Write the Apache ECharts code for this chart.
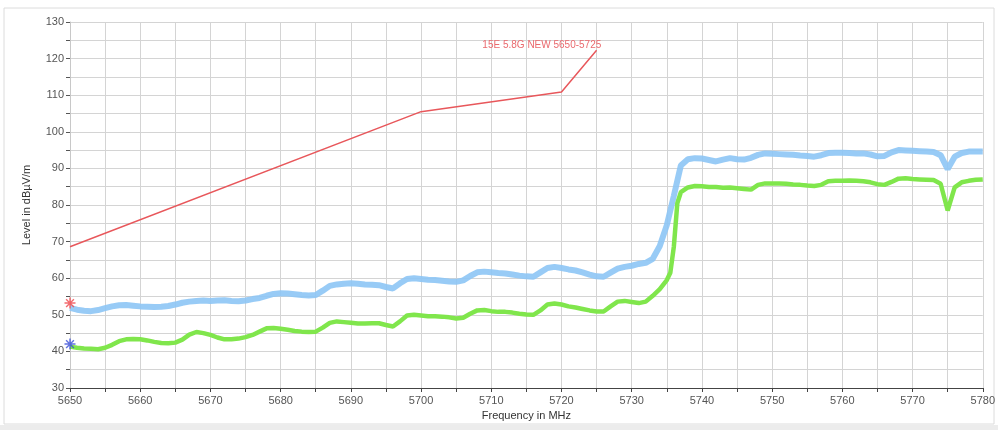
<!DOCTYPE html>
<html>
<head>
<meta charset="utf-8">
<script src="https://cdn.jsdelivr.net/npm/echarts@6/dist/echarts.min.js"></script>
<style>
    html, body { margin: 0; padding: 0; background: #fff; }
    #chart { width: 998px; height: 430px; }
</style>
</head>
<body>
<div id="chart"></div>
<script>
// frequency grid, 1 MHz steps (5650 .. 5780)
var freqStart = 5650
var freqEnd = 5780

// peak trace (blue), one value per MHz
var bluePeak = [
    51.9, 51.4, 51.1, 51.0, 51.3, 51.8, 52.3, 52.6, 52.7, 52.5,
    52.3, 52.2, 52.1, 52.2, 52.4, 52.8, 53.3, 53.6, 53.8, 53.9,
    53.8, 53.9, 54.0, 53.8, 53.7, 53.9, 54.3, 54.6, 55.2, 55.7,
    55.9, 55.8, 55.6, 55.4, 55.3, 55.4, 56.6, 57.9, 58.3, 58.5,
    58.6, 58.5, 58.3, 58.2, 58.1, 57.6, 57.2, 58.6, 59.8, 60.0,
    59.8, 59.6, 59.5, 59.3, 59.1, 59.0, 59.4, 60.6, 61.6, 61.8,
    61.6, 61.4, 61.3, 61.0, 60.7, 60.5, 60.4, 61.6, 62.8, 63.1,
    62.8, 62.4, 62.1, 61.6, 61.0, 60.5, 60.4, 61.5, 62.6, 63.1,
    63.4, 63.9, 64.2, 65.3, 68.8, 74.5, 82.5, 90.8, 92.5, 92.8,
    92.7, 92.3, 91.9, 92.4, 92.8, 92.5, 92.4, 92.9, 93.7, 94.1,
    94.0, 93.9, 93.8, 93.7, 93.5, 93.4, 93.2, 93.6, 94.2, 94.3,
    94.3, 94.2, 94.1, 94.1, 93.8, 93.3, 93.4, 94.4, 95.0, 94.9,
    94.8, 94.7, 94.6, 94.5, 93.6, 89.8, 93.2, 94.2, 94.6, 94.6,
    94.6
]

// average trace (green), one value per MHz
var greenAvg = [
    41.3, 41.0, 40.8, 40.7, 40.6, 41.0, 41.8, 42.8, 43.3, 43.4,
    43.3, 43.0, 42.6, 42.3, 42.2, 42.4, 43.2, 44.6, 45.3, 45.0,
    44.5, 43.8, 43.3, 43.3, 43.5, 43.9, 44.5, 45.4, 46.3, 46.4,
    46.2, 45.9, 45.6, 45.4, 45.3, 45.4, 46.5, 47.8, 48.2, 48.0,
    47.8, 47.6, 47.6, 47.7, 47.7, 47.2, 46.8, 48.2, 49.8, 50.0,
    49.8, 49.6, 49.6, 49.5, 49.3, 49.0, 49.2, 50.3, 51.2, 51.3,
    51.0, 50.8, 50.8, 50.6, 50.3, 50.1, 50.0, 51.2, 52.8, 53.1,
    52.8, 52.3, 52.0, 51.6, 51.2, 50.9, 50.9, 52.3, 53.6, 53.8,
    53.5, 53.2, 53.6, 55.2, 57.0, 59.5, 68.6, 83.5, 84.8, 85.2,
    85.1, 84.9, 84.9, 84.7, 84.8, 84.6, 84.4, 84.2, 85.5, 85.9,
    85.9, 85.9, 85.8, 85.6, 85.5, 85.3, 85.2, 85.5, 86.5, 86.6,
    86.6, 86.7, 86.6, 86.5, 86.2, 85.7, 85.5, 86.3, 87.2, 87.3,
    87.1, 87.0, 86.9, 86.8, 85.8, 78.5, 84.8, 86.2, 86.6, 86.9,
    87.0
]

// extra readings on the steep edge of the average trace
var greenEdgeFreq = [5735.5, 5736.5]
var greenEdgeLevel = [61.5, 80.5]

// limit line
var limitFreq = [5650, 5700, 5720, 5725]
var limitLevel = [68.6, 105.5, 110.9, 122.3]
var limitName = '15E 5.8G NEW 5650-5725'

// markers at start of sweep
var markerPeak = [5650, 53.2]
var markerAvg = [5650, 42.0]

var asterisk = 'path://M-0.8,-6L0.8,-6L0.8,6L-0.8,6Z M-6,-0.8L6,-0.8L6,0.8L-6,0.8Z M-4.8,-3.7L-3.7,-4.8L4.8,3.7L3.7,4.8Z M3.7,-4.8L4.8,-3.7L-3.7,4.8L-4.8,3.7Z'

var toPairs = (vals) => vals.map((v, i) => [freqStart + i, v])

var greenData = toPairs(greenAvg)
greenEdgeFreq.forEach((f, i) => greenData.push([f, greenEdgeLevel[i]]))
greenData.sort((a, b) => a[0] - b[0])

var chart = echarts.init(document.getElementById('chart'))

var fontFam = '"Liberation Sans", Arial, sans-serif'

chart.setOption({
    animation: false,
    backgroundColor: '#fff',
    textStyle: { fontFamily: fontFam },
    graphic: [
        {
            type: 'rect',
            shape: { x: 4, y: 8, width: 990, height: 416 },
            style: { fill: 'none', stroke: '#dcdcdc', lineWidth: 1 },
            silent: true
        },
        {
            type: 'rect',
            shape: { x: 0, y: 425, width: 998, height: 5 },
            style: { fill: '#ececec' },
            silent: true
        }
    ],
    grid: { left: 70, right: 13, top: 22, bottom: 42 },
    xAxis: {
        type: 'value',
        min: freqStart,
        max: freqEnd,
        interval: 5,
        name: 'Frequency in MHz',
        nameLocation: 'middle',
        nameGap: 21,
        nameTextStyle: { color: '#333', fontSize: 11 },
        axisLine: { lineStyle: { color: '#444', width: 1 } },
        axisTick: { length: 4, lineStyle: { color: '#444' } },
        axisLabel: {
            color: '#555',
            fontSize: 11,
            margin: 7,
            formatter: (v) => (v % 10 === 0 ? v : '')
        },
        splitLine: { show: true, lineStyle: { color: '#d4d4d4', width: 1 } }
    },
    yAxis: {
        type: 'value',
        min: 30,
        max: 130,
        interval: 5,
        name: 'Level in dBµV/m',
        nameLocation: 'middle',
        nameRotate: 90,
        nameGap: 38,
        nameTextStyle: { color: '#333', fontSize: 11 },
        axisLine: { show: true, lineStyle: { color: '#c8c8c8' } },
        axisTick: { show: true, length: 4, lineStyle: { color: '#555' } },
        axisLabel: {
            color: '#555',
            fontSize: 11,
            margin: 6,
            formatter: (v) => (v % 10 === 0 ? v : '')
        },
        splitLine: { show: true, lineStyle: { color: '#d4d4d4', width: 1 } }
    },
    series: [
        {
            name: 'Peak',
            type: 'line',
            data: toPairs(bluePeak),
            symbol: 'none',
            lineStyle: { color: '#8dc5f5', width: 6, opacity: 0.9 },
            z: 3
        },
        {
            name: 'Average',
            type: 'line',
            data: greenData,
            symbol: 'none',
            lineStyle: { color: '#80e64c', width: 4.5 },
            z: 4
        },
        {
            name: limitName,
            type: 'line',
            data: limitFreq.map((f, i) => [f, limitLevel[i]]),
            symbol: 'none',
            lineStyle: { color: '#e8575b', width: 1.5 },
            z: 5,
            markPoint: {
                symbol: 'circle',
                symbolSize: 0,
                data: [{
                    coord: [5717.2, 123.6],
                    label: {
                        show: true,
                        formatter: limitName,
                        color: '#ea6a6e',
                        fontSize: 10,
                        fontFamily: fontFam
                    }
                }]
            }
        },
        {
            name: 'Marker peak',
            type: 'scatter',
            data: [markerPeak],
            symbol: asterisk,
            symbolSize: 11,
            itemStyle: { color: '#f0474c' },
            z: 6
        },
        {
            name: 'Marker avg',
            type: 'scatter',
            data: [markerAvg],
            symbol: asterisk,
            symbolSize: 11,
            itemStyle: { color: '#3a4fd8' },
            z: 6
        }
    ]
})
</script>
</body>
</html>
